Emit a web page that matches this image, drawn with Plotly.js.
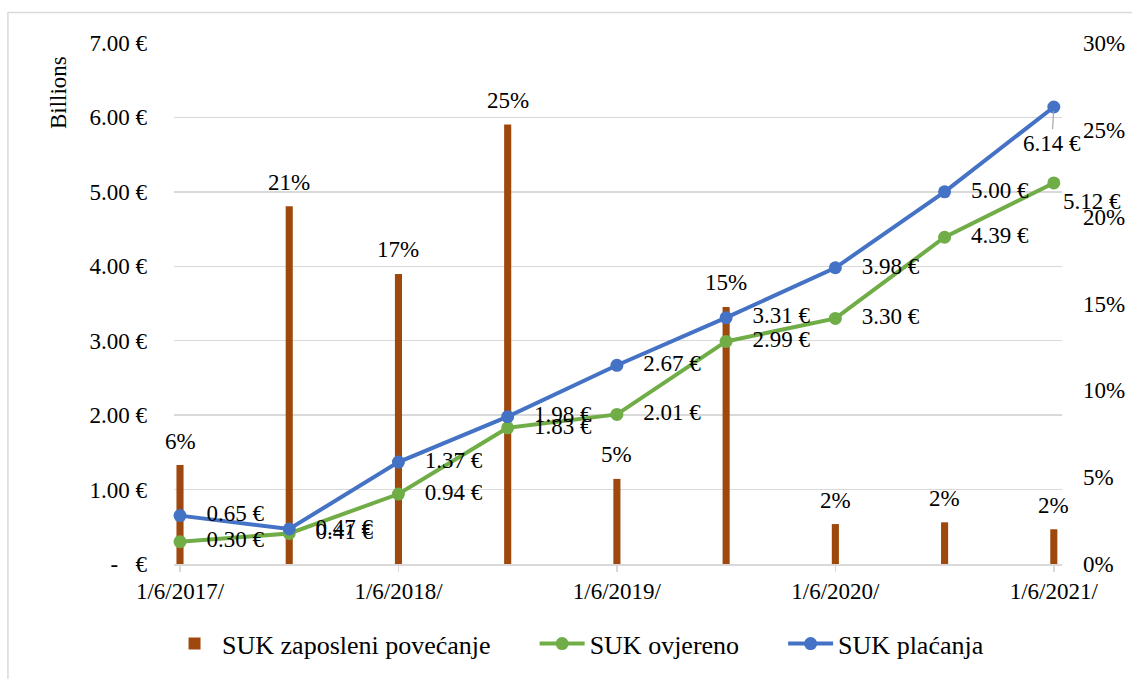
<!DOCTYPE html>
<html><head><meta charset="utf-8">
<script src="https://cdn.plot.ly/plotly-3.0.1.min.js"></script>
<style>html,body{margin:0;padding:0;background:#fff}#chart{width:1132px;height:679px}</style>
</head><body><div id="chart"></div>
<script>
const xIndex = [0, 1, 2, 3, 4, 5, 6, 7, 8];
const xTickVals = [0, 2, 4, 6, 8];
const xTickLabels = ['1/6/2017/', '1/6/2018/', '1/6/2019/', '1/6/2020/', '1/6/2021/'];
const zaposleniPct = [5.7, 20.6, 16.7, 25.3, 4.9, 14.8, 2.3, 2.4, 2.0];
const ovjereno = [0.30, 0.41, 0.94, 1.83, 2.01, 2.99, 3.30, 4.39, 5.12];
const placanja = [0.65, 0.47, 1.37, 1.98, 2.67, 3.31, 3.98, 5.00, 6.14];
const leftTickVals = [0, 1, 2, 3, 4, 5, 6, 7];
const leftTickLabels = ['-\u00a0\u00a0\u00a0€', '1.00 €', '2.00 €', '3.00 €', '4.00 €', '5.00 €', '6.00 €', '7.00 €'];
const rightTickVals = [0, 5, 10, 15, 20, 25, 30];
const rightTickLabels = ['0%', '5%', '10%', '15%', '20%', '25%', '30%'];

const FONT = 'Liberation Serif, Times New Roman, serif';
const pad = '\u00a0\u00a0\u00a0';
const gap = '\u00a0\u00a0\u00a0\u00a0\u00a0\u00a0';
const fmt = v => v.toFixed(2) + ' €';
const last = xIndex.length - 1;

const greenText = ovjereno.map((v, i) => (i === last ? '' : pad) + fmt(v));
const greenPos = ovjereno.map((v, i) => i === last ? 'bottom right' : 'middle right');
const blueText = placanja.map((v, i) => i === last ? '' : pad + fmt(v));

const traces = [
  {
    type: 'bar', name: 'SUK zaposleni povećanje' + gap, x: xIndex, y: zaposleniPct,
    yaxis: 'y', width: 0.065,
    marker: {color: '#9E480E'}
  },
  {
    type: 'scatter', mode: 'lines+markers+text', name: 'SUK ovjereno' + gap, x: xIndex, y: ovjereno,
    yaxis: 'y2',
    line: {color: '#70AD47', width: 4}, marker: {color: '#70AD47', size: 13},
    text: greenText, textposition: greenPos,
    textfont: {family: FONT, size: 23, color: '#000'}, cliponaxis: false
  },
  {
    type: 'scatter', mode: 'lines+markers+text', name: 'SUK plaćanja', x: xIndex, y: placanja,
    yaxis: 'y2',
    line: {color: '#4472C4', width: 4}, marker: {color: '#4472C4', size: 13},
    text: blueText, textposition: 'middle right',
    textfont: {family: FONT, size: 23, color: '#000'}, cliponaxis: false
  }
];

const barLabels = xIndex.map((x, i) => ({
  text: Math.round(zaposleniPct[i]) + '%', xref: 'x', yref: 'y', x: x, y: zaposleniPct[i],
  showarrow: false, yanchor: 'middle', xanchor: 'center', yshift: 24,
  font: {family: FONT, size: 23, color: '#000'}
}));

const layout = {
  width: 1132, height: 679,
  margin: {l: 174, r: 70, t: 43, b: 111},
  paper_bgcolor: '#fff', plot_bgcolor: '#fff',
  font: {family: FONT, size: 23, color: '#000'},
  showlegend: true,
  legend: {orientation: 'h', x: 0.455, xanchor: 'center', y: -0.153, yanchor: 'middle',
           font: {family: FONT, size: 26, color: '#000'}, traceorder: 'normal', itemwidth: 45},
  xaxis: {
    range: [-0.055, 8.075], tickvals: xTickVals, ticktext: xTickLabels,
    showgrid: false, zeroline: false, showline: true, linecolor: '#d9d9d9', linewidth: 1.5,
    ticks: 'outside', ticklen: 6, tickcolor: '#d9d9d9', tickwidth: 1.5,
    tickfont: {family: FONT, size: 23, color: '#000'}
  },
  yaxis: {
    side: 'right', range: [0, 30], tickvals: rightTickVals, ticktext: rightTickLabels,
    showgrid: false, zeroline: false, showline: false,
    tickfont: {family: FONT, size: 23, color: '#000'}, ticklabelstandoff: 20
  },
  yaxis2: {
    side: 'left', overlaying: 'y', range: [0, 7], tickvals: leftTickVals, ticktext: leftTickLabels,
    showgrid: true, gridcolor: '#d9d9d9', gridwidth: 1.5, zeroline: false, showline: false,
    tickfont: {family: FONT, size: 23, color: '#000'}, ticklabelstandoff: 26
  },
  annotations: [
    {
      text: 'Billions', xref: 'paper', yref: 'paper', x: -0.1306, y: 0.904,
      textangle: -90, showarrow: false, font: {family: FONT, size: 23, color: '#000'},
      xanchor: 'center', yanchor: 'middle'
    },
    {
      text: fmt(placanja[last]), xref: 'x', yref: 'y2', x: xIndex[last], y: placanja[last],
      showarrow: true, arrowhead: 0, arrowwidth: 1.2, arrowcolor: '#a6a6a6',
      ax: -2, ay: 36, standoff: 4, font: {family: FONT, size: 23, color: '#000'}
    }
  ].concat(barLabels),
  shapes: [{
    type: 'rect', xref: 'paper', yref: 'paper', x0: -0.187, x1: 1.09, y0: -0.23, y1: 1.0585,
    line: {color: '#d9d9d9', width: 1.5}, fillcolor: 'rgba(0,0,0,0)', layer: 'below'
  }]
};

Plotly.newPlot('chart', traces, layout, {displayModeBar: false, staticPlot: true});
</script>
</body></html>
